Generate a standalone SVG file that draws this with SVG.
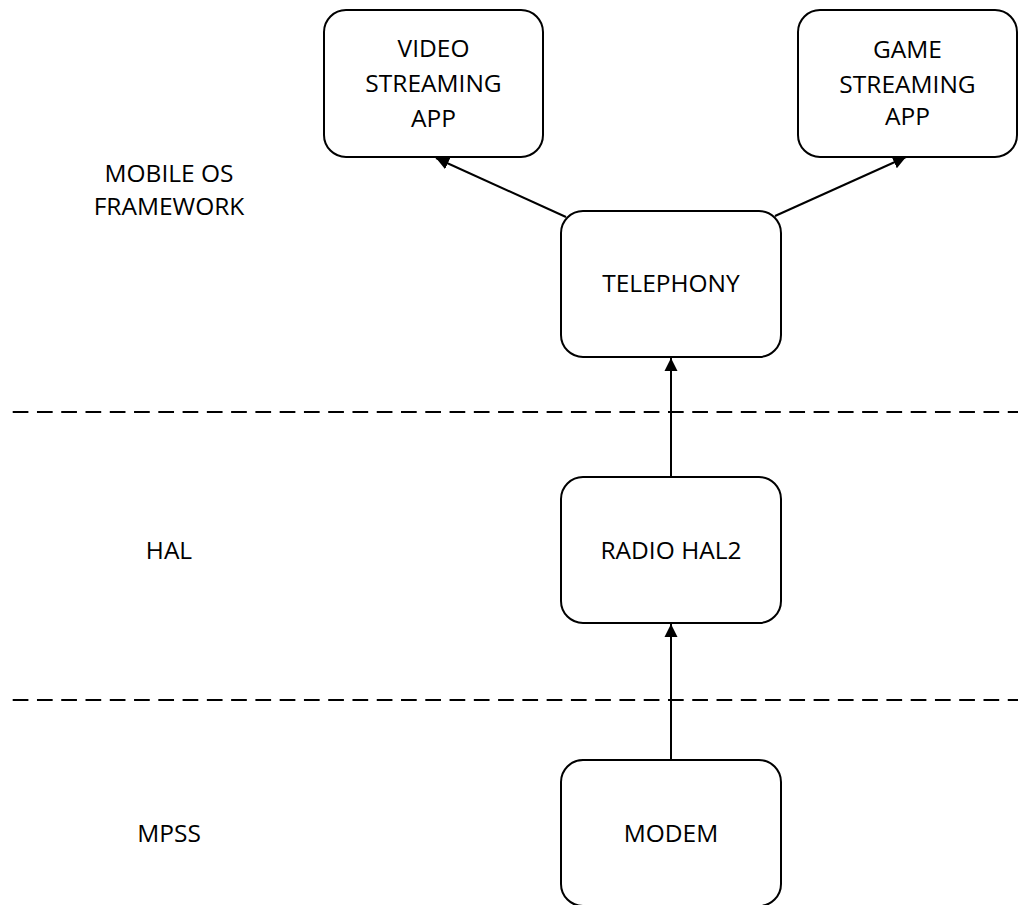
<svg xmlns="http://www.w3.org/2000/svg" width="1018" height="905" viewBox="0 0 1018 905">
<style>
.box{fill:#fff;stroke:#000;stroke-width:2}
.t{font-family:"Open Sans","Liberation Sans",sans-serif;font-size:24.5px;fill:#000;text-anchor:middle}
.c{stroke:#000;stroke-width:2;fill:none;marker-end:url(#ah)}
.d{stroke:#000;stroke-width:2;stroke-dasharray:15.7 8.57}
</style>
<defs>
<marker id="ah" markerUnits="userSpaceOnUse" markerWidth="14" markerHeight="14" viewBox="0 0 14 14" refX="13" refY="7" orient="auto">
<path d="M0,0.5 L13,7 L0,13.5 Z" fill="#000"/>
</marker>
</defs>
<rect width="1018" height="905" fill="#fff"/>
<g id="layers">
<line class="d" x1="12.7" y1="412" x2="1018" y2="412"/>
<line class="d" x1="12.7" y1="700" x2="1018" y2="700"/>
<text class="t" x="169" y="182">MOBILE OS</text>
<text class="t" x="169" y="215">FRAMEWORK</text>
<text class="t" x="169" y="559">HAL</text>
<text class="t" x="169" y="842">MPSS</text>
</g>
<g id="connectors">
<line class="c" x1="566" y1="217" x2="436" y2="158"/>
<line class="c" x1="775" y1="216" x2="906" y2="157"/>
<line class="c" x1="671" y1="477" x2="671" y2="358"/>
<line class="c" x1="671" y1="760" x2="671" y2="624"/>
</g>
<g id="video">
<rect class="box" x="324" y="10" width="219" height="147" rx="22"/>
<text class="t" x="433.5" y="57">VIDEO</text>
<text class="t" x="433.5" y="92">STREAMING</text>
<text class="t" x="433.5" y="127">APP</text>
</g>
<g id="game">
<rect class="box" x="798" y="10" width="219" height="147" rx="22"/>
<text class="t" x="907.5" y="58">GAME</text>
<text class="t" x="907.5" y="93">STREAMING</text>
<text class="t" x="907.5" y="125">APP</text>
</g>
<g id="telephony">
<rect class="box" x="561" y="211" width="220" height="146" rx="22"/>
<text class="t" x="671" y="292">TELEPHONY</text>
</g>
<g id="radiohal2">
<rect class="box" x="561" y="477" width="220" height="146" rx="22"/>
<text class="t" x="671" y="559">RADIO HAL2</text>
</g>
<g id="modem">
<rect class="box" x="561" y="760" width="220" height="146" rx="22"/>
<text class="t" x="671" y="842">MODEM</text>
</g>
</svg>
